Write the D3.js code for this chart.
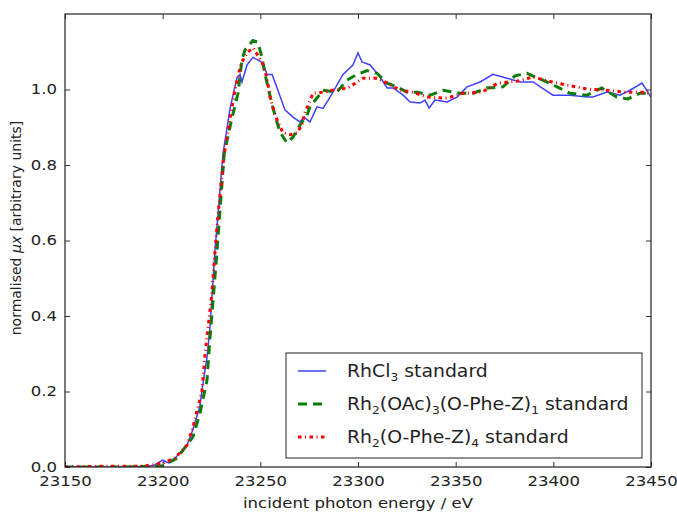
<!DOCTYPE html>
<html>
<head>
<meta charset="utf-8">
<script src="https://cdn.jsdelivr.net/npm/d3@7"></script>
<style>
  body { margin: 0; background: #fff; }
  text { font-family: "DejaVu Sans", sans-serif; fill: #222; }
</style>
</head>
<body>
<svg id="chart" width="677" height="516"></svg>
<script>
// energies (eV) and normalised absorption
const rhcl3E = [23150, 23183, 23195, 23200, 23203, 23207, 23212.5, 23215.5, 23219, 23220.6, 23222.7, 23224.2, 23226.8, 23230.9, 23234.5, 23238, 23239.6, 23240.6, 23243.2, 23246.2, 23249.8, 23251.4, 23253.4, 23256, 23258.5, 23262.6, 23266.7, 23270.3, 23272.4, 23273.9, 23275.4, 23279, 23282.1, 23285.7, 23292.3, 23297.4, 23300, 23302.1, 23306.2, 23311.3, 23314.9, 23318, 23323.1, 23326.7, 23331.8, 23334.3, 23336.4, 23339.4, 23345.6, 23350.7, 23355.8, 23362.5, 23369.1, 23376.3, 23383, 23389.6, 23399.8, 23408.5, 23417.2, 23420.3, 23427.5, 23434.1, 23439.2, 23445.4, 23450];
const rhcl3Y = [0.0, 0.0, 0.003, 0.018, 0.011, 0.027, 0.058, 0.1, 0.16, 0.22, 0.29, 0.37, 0.575, 0.83, 0.95, 1.03, 1.04, 1.02, 1.065, 1.085, 1.075, 1.07, 1.04, 1.04, 1.005, 0.946, 0.927, 0.914, 0.927, 0.92, 0.914, 0.954, 0.95, 0.98, 1.04, 1.065, 1.097, 1.073, 1.065, 1.033, 1.004, 1.004, 0.985, 0.967, 0.964, 0.972, 0.951, 0.972, 0.967, 0.98, 1.007, 1.02, 1.04, 1.03, 1.02, 1.02, 0.985, 0.985, 0.98, 0.98, 0.993, 0.985, 0.998, 1.017, 0.98];

const oacE = [23150, 23180, 23200, 23207.5, 23215.5, 23219, 23222.7, 23224.2, 23227.5, 23231.5, 23235.5, 23238.6, 23240.6, 23242.2, 23246.2, 23248.8, 23250.9, 23252.4, 23254, 23256, 23258.5, 23260.1, 23263.7, 23266.7, 23270.3, 23273.9, 23275.4, 23282.1, 23289.2, 23294.4, 23299.5, 23304.6, 23309.7, 23314.9, 23320, 23325.1, 23330.3, 23336.9, 23343.5, 23352.2, 23358.9, 23366, 23374.2, 23380.4, 23386.5, 23393.2, 23401.9, 23408.5, 23417.2, 23424.8, 23432.5, 23438.1, 23444.3, 23450];
const oacY = [0.0, 0.0, 0.003, 0.024, 0.08, 0.14, 0.23, 0.34, 0.55, 0.83, 0.925, 0.99, 1.08, 1.105, 1.13, 1.125, 1.083, 1.04, 1.005, 0.96, 0.914, 0.887, 0.858, 0.874, 0.906, 0.932, 0.954, 0.998, 0.993, 1.025, 1.04, 1.05, 1.043, 1.017, 1.007, 0.993, 0.993, 0.985, 0.998, 0.99, 0.99, 1.004, 1.007, 1.036, 1.043, 1.028, 1.007, 0.99, 0.985, 1.004, 0.98, 0.975, 0.99, 0.99];

const pheE = [23150, 23170, 23190, 23200, 23206.3, 23212.5, 23215.5, 23220.1, 23221.7, 23225, 23228, 23231.4, 23234.5, 23237.1, 23240.2, 23243.7, 23246.3, 23250.9, 23253.4, 23255, 23257.5, 23261.6, 23265.2, 23268.8, 23271.3, 23272.9, 23277, 23282.1, 23286.7, 23294.9, 23302.6, 23309.7, 23314.9, 23321.5, 23327.6, 23335.8, 23345.6, 23353.8, 23363.5, 23371.7, 23381.4, 23389.6, 23399.4, 23408.5, 23417.7, 23427.5, 23436.7, 23445.4, 23450];
const pheY = [0.0, 0.002, 0.002, 0.01, 0.024, 0.058, 0.106, 0.2, 0.3, 0.45, 0.65, 0.826, 0.925, 1.0, 1.07, 1.1, 1.11, 1.073, 1.03, 0.98, 0.932, 0.885, 0.88, 0.885, 0.906, 0.94, 0.99, 0.993, 0.998, 1.004, 1.03, 1.03, 1.017, 0.998, 0.993, 0.98, 0.977, 0.99, 0.993, 1.017, 1.022, 1.033, 1.02, 1.01, 1.001, 0.998, 0.993, 0.993, 0.99];

const xTicks = [23150, 23200, 23250, 23300, 23350, 23400, 23450];
const yTicks = [0.0, 0.2, 0.4, 0.6, 0.8, 1.0];

const svg = d3.select('#chart');
const m = { l: 65, r: 651, t: 14, b: 467 };
const stretch = 1.14; // the source figure is a bit wider than tall
const x = d3.scaleLinear().domain([23150, 23450]).range([m.l, m.r]);
const y = d3.scaleLinear().domain([0, 1.2]).range([m.b, m.t]);

const series = [
    { name: 'RhCl3', e: rhcl3E, v: rhcl3Y, color: '#4040ff', w: 1.5, dash: null },
    { name: 'OAc', e: oacE, v: oacY, color: '#0a7d0a', w: 3, dash: '9,6' },
    { name: 'Phe', e: pheE, v: pheY, color: '#ff0000', w: 3, dash: '3.5,3.5,1,3.5' }
];

const line = d3.line().x(d => x(d[0])).y(d => y(d[1]));
const plot = svg.append('g');
plot.append('clipPath').attr('id', 'clip').append('rect')
    .attr('x', m.l).attr('y', m.t).attr('width', m.r - m.l).attr('height', m.b - m.t);

series.forEach(s => {
    plot.append('path')
        .attr('clip-path', 'url(#clip)')
        .attr('d', line(d3.zip(s.e, s.v)))
        .attr('fill', 'none')
        .attr('stroke', s.color)
        .attr('stroke-width', s.w)
        .attr('stroke-dasharray', s.dash);
});

// axes, matplotlib-like inward ticks on all sides
const xb = svg.append('g').attr('transform', `translate(0,${m.b})`)
    .call(d3.axisBottom(x).tickValues(xTicks).tickSizeInner(-5).tickSizeOuter(0).tickPadding(9).tickFormat(d3.format('d')));
const xt = svg.append('g').attr('transform', `translate(0,${m.t})`)
    .call(d3.axisTop(x).tickValues(xTicks).tickSizeInner(-5).tickSizeOuter(0).tickFormat(''));
const yl = svg.append('g').attr('transform', `translate(${m.l},0)`)
    .call(d3.axisLeft(y).tickValues(yTicks).tickSizeInner(-5).tickSizeOuter(0).tickPadding(7).tickFormat(d3.format('.1f')));
const yr = svg.append('g').attr('transform', `translate(${m.r},0)`)
    .call(d3.axisRight(y).tickValues(yTicks).tickSizeInner(-5).tickSizeOuter(0).tickFormat(''));
[xb, xt, yl, yr].forEach(g => {
    g.select('.domain').remove();
    g.selectAll('.tick line').attr('stroke', '#333');
    g.selectAll('.tick text').attr('font-size', 14.5).attr('font-family', '"DejaVu Sans", sans-serif')
        .attr('fill', '#222').attr('transform', `scale(${stretch},1)`);
});
yl.selectAll('.tick text').attr('dy', '0.3em');

svg.append('rect')
    .attr('x', m.l).attr('y', m.t).attr('width', m.r - m.l).attr('height', m.b - m.t)
    .attr('fill', 'none').attr('stroke', '#222').attr('stroke-width', 1.2);

svg.append('g').attr('transform', `translate(${(m.l + m.r) / 2},508) scale(${stretch},1)`)
    .append('text')
    .attr('text-anchor', 'middle').attr('font-size', 14.5)
    .text('incident photon energy / eV');

const ylab = svg.append('text')
    .attr('transform', `translate(21,228) rotate(-90)`)
    .attr('text-anchor', 'middle').attr('font-size', 14);
ylab.append('tspan').text('normalised ');
ylab.append('tspan').attr('font-style', 'italic').text('μx');
ylab.append('tspan').text(' [arbitrary units]');

// legend
const legend = svg.append('g');
legend.append('rect')
    .attr('x', 286).attr('y', 353).attr('width', 356).attr('height', 105)
    .attr('fill', '#fff').attr('stroke', '#222').attr('stroke-width', 1);

const labels = [
    [['RhCl', 0], ['3', 1], [' standard', 0]],
    [['Rh', 0], ['2', 1], ['(OAc)', 0], ['3', 1], ['(O-Phe-Z)', 0], ['1', 1], [' standard', 0]],
    [['Rh', 0], ['2', 1], ['(O-Phe-Z)', 0], ['4', 1], [' standard', 0]]
];
series.forEach((s, i) => {
    const yy = 371 + i * 33;
    legend.append('line')
        .attr('x1', 298).attr('x2', 326).attr('y1', yy).attr('y2', yy)
        .attr('stroke', s.color).attr('stroke-width', s.w)
        .attr('stroke-dasharray', s.dash);
    const t = legend.append('g')
        .attr('transform', `translate(347,${yy + 6}) scale(1.11,1)`)
        .append('text').attr('font-size', 17).attr('xml:space', 'preserve');
    let shift = 0;
    labels[i].forEach(([str, sub]) => {
        const target = sub ? 4 : 0;
        const sp = t.append('tspan').text(str).attr('dy', target - shift);
        if (sub) sp.attr('font-size', 11);
        shift = target;
    });
});
</script>
</body>
</html>
